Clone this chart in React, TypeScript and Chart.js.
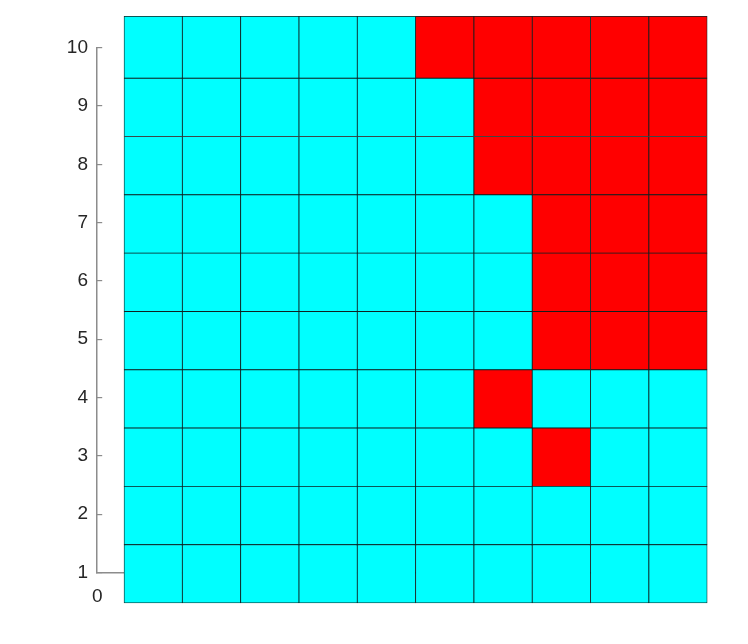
import React, { useEffect, useRef } from 'react';
import { Chart, registerables } from 'chart.js';

Chart.register(...registerables);

// Column indices (left to right) and row indices (top to bottom)
const COL_INDEX = [1, 2, 3, 4, 5, 6, 7, 8, 9, 10];
const ROW_INDEX = [10, 9, 8, 7, 6, 5, 4, 3, 2, 1];

// Cell values, one list per row from top (10) to bottom (1): 0 = cyan, 1 = red
const ROW_10 = [0, 0, 0, 0, 0, 1, 1, 1, 1, 1];
const ROW_9 = [0, 0, 0, 0, 0, 0, 1, 1, 1, 1];
const ROW_8 = [0, 0, 0, 0, 0, 0, 1, 1, 1, 1];
const ROW_7 = [0, 0, 0, 0, 0, 0, 0, 1, 1, 1];
const ROW_6 = [0, 0, 0, 0, 0, 0, 0, 1, 1, 1];
const ROW_5 = [0, 0, 0, 0, 0, 0, 0, 1, 1, 1];
const ROW_4 = [0, 0, 0, 0, 0, 0, 1, 0, 0, 0];
const ROW_3 = [0, 0, 0, 0, 0, 0, 0, 1, 0, 0];
const ROW_2 = [0, 0, 0, 0, 0, 0, 0, 0, 0, 0];
const ROW_1 = [0, 0, 0, 0, 0, 0, 0, 0, 0, 0];
const CELL_ROWS = [ROW_10, ROW_9, ROW_8, ROW_7, ROW_6, ROW_5, ROW_4, ROW_3, ROW_2, ROW_1];

// Tick values and labels
const Y_TICK_VALUES = [1, 2, 3, 4, 5, 6, 7, 8, 9, 10];
const Y_TICK_LABELS = ['1', '2', '3', '4', '5', '6', '7', '8', '9', '10'];
const X_TICK_VALUES = [0];
const X_TICK_LABELS = ['0'];

// Styling / layout constants
const CELL_COLORS = ['#00ffff', '#ff0000'];
const AXIS_COLOR = '#8c8c8c';
const TEXT_COLOR = '#262626';
const FONT = { family: '"Liberation Sans", Arial, Helvetica, sans-serif', size: 19 };
const X_MIN = 0;
const X_MAX = 10.44;
const Y_MIN = 1;
const Y_MAX = 10;
const COL_SHIFT = -0.04;
const ROW_BELOW = 0.523;
const ROW_ABOVE = 0.477;
const TOP_EDGE = 10.54;

export default function App() {
  const ref = useRef<HTMLCanvasElement>(null);

  useEffect(() => {
    if (!ref.current) return;
    const points: any[] = [];
    const colors: string[] = [];
    ROW_INDEX.forEach((r, ri) => {
      COL_INDEX.forEach((c, ci) => {
        const v = CELL_ROWS[ri][ci];
        points.push({
          x: c + COL_SHIFT,
          y: [r - ROW_BELOW, r === ROW_INDEX[0] ? TOP_EDGE : r + ROW_ABOVE],
        });
        colors.push(CELL_COLORS[v]);
      });
    });

    const chart = new Chart(ref.current, {
      type: 'bar',
      data: {
        datasets: [
          {
            data: points,
            backgroundColor: colors,
            borderColor: '#0f2020',
            borderWidth: 0.8,
            borderSkipped: false,
            clip: false,
            barPercentage: 1,
            categoryPercentage: 1,
          } as any,
        ],
      },
      options: {
        responsive: false,
        animation: false,
        devicePixelRatio: 1,
        layout: { padding: { left: 37.2, right: 42, top: 47.7, bottom: 41.5 } },
        plugins: { legend: { display: false }, tooltip: { enabled: false } },
        scales: {
          x: {
            type: 'linear',
            min: X_MIN,
            max: X_MAX,
            offset: false,
            afterBuildTicks: (s: any) => {
              s.ticks = X_TICK_VALUES.map((v) => ({ value: v }));
            },
            afterFit: (s: any) => {
              s.height = 30;
            },
            ticks: {
              padding: 13,
              color: TEXT_COLOR,
              font: FONT,
              maxRotation: 0,
              autoSkip: false,
              callback: (_v: any, i: number) => X_TICK_LABELS[i],
            },
            grid: { display: false, drawTicks: false, offset: false },
            border: { display: true, color: AXIS_COLOR, width: 1.5 },
          },
          y: {
            type: 'linear',
            min: Y_MIN,
            max: Y_MAX,
            afterBuildTicks: (s: any) => {
              s.ticks = Y_TICK_VALUES.map((v) => ({ value: v }));
            },
            afterFit: (s: any) => {
              s.width = 60;
            },
            ticks: {
              padding: 14.2,
              color: TEXT_COLOR,
              font: FONT,
              autoSkip: false,
              callback: (_v: any, i: number) => Y_TICK_LABELS[i],
            },
            grid: {
              display: true,
              drawOnChartArea: false,
              drawTicks: true,
              tickLength: -5,
              color: AXIS_COLOR,
              lineWidth: 1.2,
            },
            border: { display: true, color: AXIS_COLOR, width: 1.5 },
          },
        },
      } as any,
    });
    return () => chart.destroy();
  }, []);

  return (
    <div style={{ position: 'fixed', left: 0, top: 0, width: 748, height: 644, background: '#fff' }}>
      <canvas ref={ref} width={748} height={644} />
    </div>
  );
}
